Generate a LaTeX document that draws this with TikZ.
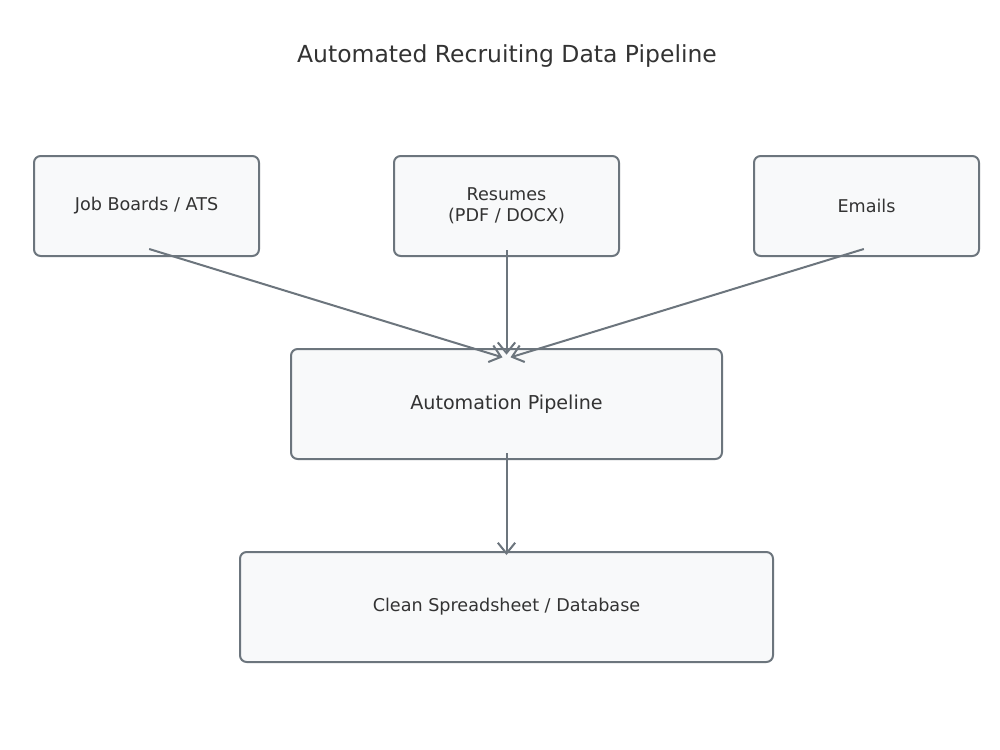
\documentclass[tikz,border=0pt]{standalone}
\usepackage{fontspec}
\setmainfont{DejaVu Sans}
\usetikzlibrary{arrows.meta}
\definecolor{edgegray}{HTML}{6C757D}
\definecolor{boxfill}{HTML}{F8F9FA}
\definecolor{inkgray}{HTML}{333333}
\tikzset{
  srcbox/.style={draw=edgegray, fill=boxfill, line width=1.5pt, rounded corners=5pt,
    minimum width=168.75pt, minimum height=75pt, align=center, text=inkgray,
    font=\fontsize{13.2}{15.5}\selectfont, inner sep=0pt},
  flowline/.style={draw=edgegray, line width=1.5pt,
    -{Straight Barb[length=8pt,width=13pt,line width=1.5pt]}},
}
\begin{document}
\begin{tikzpicture}[x=0.75pt,y=-0.75pt]
\useasboundingbox (0,0) rectangle (1000,750);
\fill[white] (0,0) rectangle (1000,750);
\node[text=inkgray, font=\fontsize{17.6}{21}\selectfont] (title) at (507,56) {Automated Recruiting Data Pipeline};
\node[srcbox] (jobs) at (146.5,206) {Job Boards / ATS};
\node[srcbox] (resumes) at (506.5,206) {Resumes\\(PDF / DOCX)};
\node[srcbox] (emails) at (866.5,206) {Emails};
\node[srcbox, minimum width=323.25pt, minimum height=82.5pt, font=\fontsize{14.35}{17}\selectfont] (pipe) at (506.5,404) {Automation Pipeline};
\node[srcbox, minimum width=399.75pt, minimum height=82.5pt] (store) at (506.5,607) {Clean Spreadsheet / Database};
\coordinate (jobsout) at ([xshift=2pt,yshift=6pt]jobs.south);
\coordinate (resout) at ([yshift=5pt]resumes.south);
\coordinate (emailsout) at ([xshift=-2pt,yshift=6pt]emails.south);
\coordinate (pipeinL) at ([xshift=-3pt,yshift=-7pt]pipe.north);
\coordinate (pipeinM) at ([yshift=-5pt]pipe.north);
\coordinate (pipeinR) at ([xshift=3pt,yshift=-7pt]pipe.north);
\coordinate (pipeout) at ([yshift=5pt]pipe.south);
\coordinate (storein) at ([yshift=-3pt]store.north);
\draw[flowline] (jobsout) -- (pipeinL);
\draw[flowline] (resout) -- (pipeinM);
\draw[flowline] (emailsout) -- (pipeinR);
\draw[flowline] (pipeout) -- (storein);
\end{tikzpicture}
\end{document}
